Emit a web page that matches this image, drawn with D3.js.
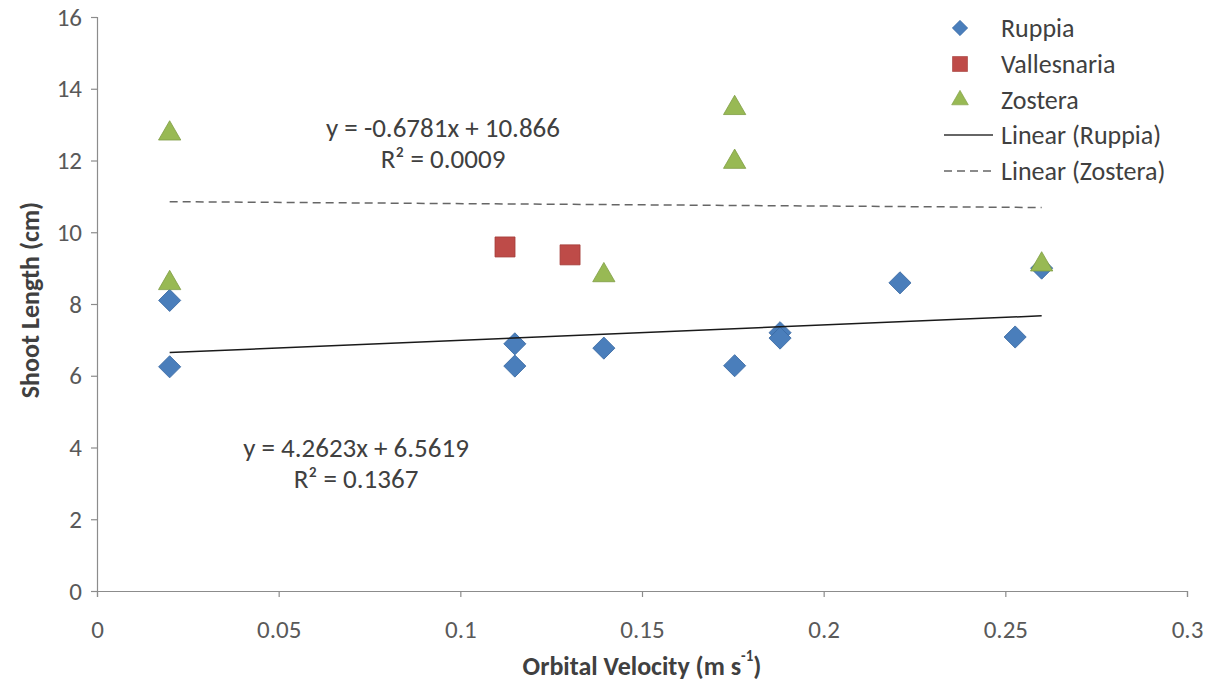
<!DOCTYPE html>
<html>
<head>
<meta charset="utf-8">
<script src="https://cdn.jsdelivr.net/npm/d3@7"></script>
<style>
  html, body { margin: 0; padding: 0; background: #fff; }
  svg { display: block; font-family: Carlito, Lato, "Open Sans", sans-serif; }
</style>
</head>
<body>
<svg id="chart" width="1222" height="685"></svg>
<script>
// Shoot length against orbital velocity for three seagrass genera
const ruppiaX = [0.02, 0.02, 0.115, 0.115, 0.1395, 0.1755, 0.188, 0.188, 0.221, 0.2527, 0.26];
const ruppiaY = [8.1, 6.25, 6.89, 6.27, 6.77, 6.28, 7.2, 7.05, 8.59, 7.08, 9.0];

const vallesnariaX = [0.1123, 0.1302];
const vallesnariaY = [9.59, 9.37];

const zosteraX = [0.02, 0.02, 0.1395, 0.1755, 0.1755, 0.26];
const zosteraY = [12.75, 8.58, 8.8, 13.46, 11.96, 9.1];

// Linear trend coefficients [slope, intercept] and their fit text
const ruppiaFit = [4.2623, 6.5619];
const zosteraFit = [-0.6781, 10.866];
const ruppiaFitText = ["y = 4.2623x + 6.5619", "R\u00B2 = 0.1367"];
const zosteraFitText = ["y = -0.6781x + 10.866", "R\u00B2 = 0.0009"];

const xTicks = [0, 0.05, 0.1, 0.15, 0.2, 0.25, 0.3];
const yTicks = [0, 2, 4, 6, 8, 10, 12, 14, 16];

const legendNames = ["Ruppia", "Vallesnaria", "Zostera", "Linear (Ruppia)", "Linear (Zostera)"];

const colors = { ruppia: "#4a7ebb", vallesnaria: "#be4b48", zostera: "#98b954" };
const strokes = { ruppia: "#3b6aa3", vallesnaria: "#a33c39", zostera: "#7f9d44" };

const svg = d3.select("#chart");

const x = d3.scaleLinear().domain([0, 0.3]).range([97, 1187]);
const y = d3.scaleLinear().domain([0, 16]).range([591, 17]);

const axisColor = "#8c8c8c";
const tickText = "#595959";
const labelFont = "Carlito, Lato, sans-serif";

// Y axis
const yAxis = svg.append("g")
  .attr("transform", `translate(${x(0)},0)`)
  .call(d3.axisLeft(y).tickValues(yTicks).tickSize(6).tickPadding(9).tickFormat(d3.format("d")));
yAxis.select(".domain").attr("stroke", axisColor).attr("stroke-width", 1.2);
yAxis.selectAll(".tick line").attr("stroke", axisColor).attr("stroke-width", 1.2);
yAxis.selectAll(".tick text")
  .attr("fill", tickText).attr("font-size", 25).attr("font-family", labelFont);

// X axis
const xAxis = svg.append("g")
  .attr("transform", `translate(0,${y(0)})`)
  .call(d3.axisBottom(x).tickValues(xTicks).tickSize(6).tickPadding(23)
    .tickFormat(d => d === 0 ? "0" : String(+d.toFixed(2))));
xAxis.select(".domain").attr("stroke", axisColor).attr("stroke-width", 1.2);
xAxis.selectAll(".tick line").attr("stroke", axisColor).attr("stroke-width", 1.2);
xAxis.selectAll(".tick text")
  .attr("fill", tickText).attr("font-size", 25).attr("font-family", labelFont);

// Axis titles
svg.append("text")
  .attr("transform", `translate(30,300) rotate(-90)`)
  .attr("text-anchor", "middle")
  .attr("dominant-baseline", "central")
  .attr("font-size", 26).attr("font-weight", "bold").attr("fill", "#404040")
  .text("Shoot Length (cm)");

const xTitle = svg.append("text")
  .attr("x", 642).attr("y", 666)
  .attr("text-anchor", "middle")
  .attr("dominant-baseline", "central")
  .attr("font-size", 26).attr("font-weight", "bold").attr("fill", "#404040");
xTitle.append("tspan").text("Orbital Velocity (m s");
xTitle.append("tspan").attr("font-size", 15).attr("dy", -10).text("-1");
xTitle.append("tspan").attr("dy", 10).text(")");

// Marker shapes
const diamond = d3.symbol().type(d3.symbolSquare).size(245);
const square = d3.symbol().type(d3.symbolSquare).size(400);
const triangle = d3.symbol().type(d3.symbolTriangle).size(215);

function drawPoints(xs, ys, gen, key, rotate) {
  svg.append("g").selectAll("path")
    .data(xs.map((d, i) => [d, ys[i]]))
    .join("path")
    .attr("d", gen)
    .attr("transform", d => `translate(${x(d[0])},${y(d[1])})${rotate ? " rotate(45)" : ""}`)
    .attr("fill", colors[key])
    .attr("stroke", strokes[key])
    .attr("stroke-width", 0.8);
}

drawPoints(ruppiaX, ruppiaY, diamond, "ruppia", true);
drawPoints(vallesnariaX, vallesnariaY, square, "vallesnaria", false);
drawPoints(zosteraX, zosteraY, triangle, "zostera", false);

// Trend lines over the range of each series
function trend(xs, fit) {
  const ext = d3.extent(xs);
  return ext.map(v => [v, fit[0] * v + fit[1]]);
}
const line = d3.line().x(d => x(d[0])).y(d => y(d[1]));

svg.append("path")
  .attr("d", line(trend(zosteraX, zosteraFit)))
  .attr("fill", "none").attr("stroke", "#666").attr("stroke-width", 1.5)
  .attr("stroke-dasharray", "8,5");

svg.append("path")
  .attr("d", line(trend(ruppiaX, ruppiaFit)))
  .attr("fill", "none").attr("stroke", "#1a1a1a").attr("stroke-width", 1.5);

// Fit equations
function fitLabel(lines, cx, cy) {
  svg.append("g").selectAll("text")
    .data(lines)
    .join("text")
    .attr("x", cx).attr("y", (d, i) => cy + i * 31)
    .attr("text-anchor", "middle")
    .attr("dominant-baseline", "central")
    .attr("font-size", 27).attr("fill", "#404040")
    .text(d => d);
}
fitLabel(zosteraFitText, 443, 127);
fitLabel(ruppiaFitText, 356, 447);

// Legend
const legend = svg.append("g");
const rowY = [28, 64, 100, 135, 171];
const mx = 960;
legend.append("path").attr("d", diamond).attr("transform", `translate(${mx},${rowY[0]}) rotate(45) scale(0.7)`)
  .attr("fill", colors.ruppia).attr("stroke", strokes.ruppia).attr("stroke-width", 0.8);
legend.append("path").attr("d", square).attr("transform", `translate(${mx},${rowY[1]}) scale(0.75)`)
  .attr("fill", colors.vallesnaria).attr("stroke", strokes.vallesnaria).attr("stroke-width", 0.8);
legend.append("path").attr("d", triangle).attr("transform", `translate(${mx},${rowY[2]}) scale(0.75)`)
  .attr("fill", colors.zostera).attr("stroke", strokes.zostera).attr("stroke-width", 0.8);
legend.append("line").attr("x1", 944).attr("x2", 993).attr("y1", rowY[3]).attr("y2", rowY[3])
  .attr("stroke", "#333").attr("stroke-width", 1.5);
legend.append("line").attr("x1", 944).attr("x2", 993).attr("y1", rowY[4]).attr("y2", rowY[4])
  .attr("stroke", "#666").attr("stroke-width", 1.5).attr("stroke-dasharray", "8,5");
legend.selectAll("text.lg")
  .data(legendNames)
  .join("text")
  .attr("class", "lg")
  .attr("x", 1001).attr("y", (d, i) => rowY[i])
  .attr("dominant-baseline", "central")
  .attr("font-size", 26).attr("fill", "#404040")
  .text(d => d);
</script>
</body>
</html>
